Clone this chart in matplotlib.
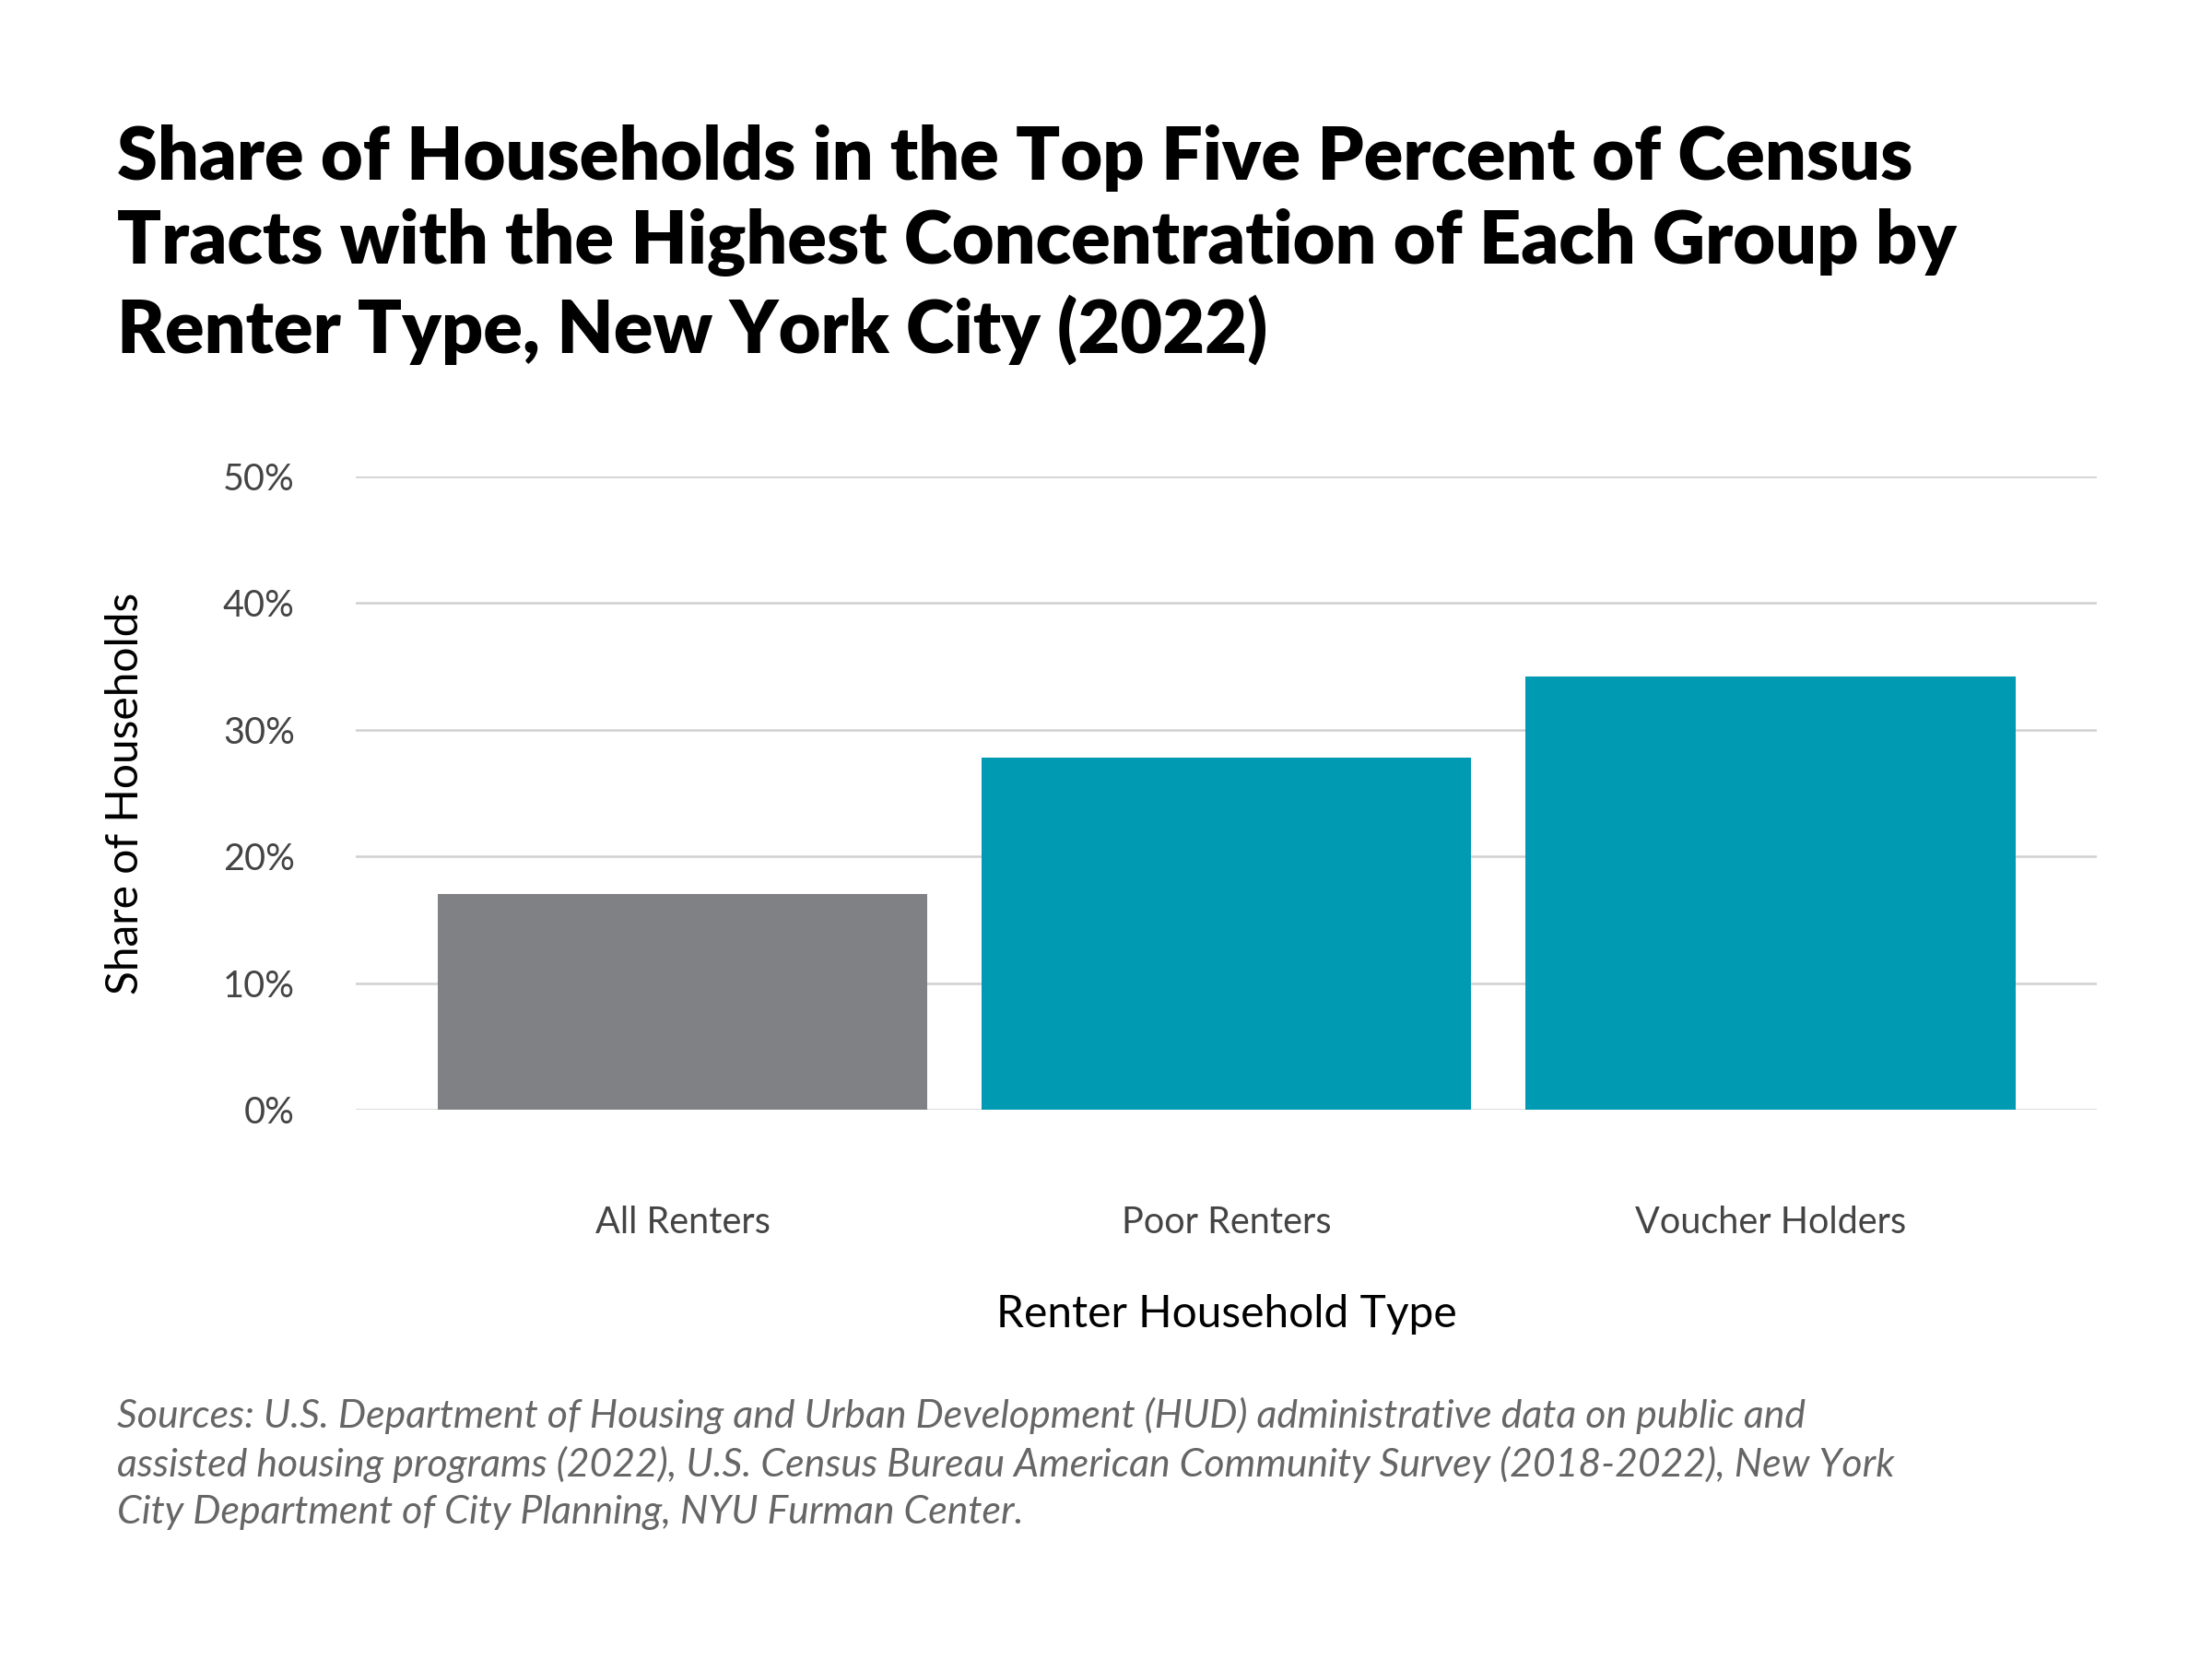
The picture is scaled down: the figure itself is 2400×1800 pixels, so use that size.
import matplotlib.pyplot as plt
from matplotlib.ticker import FuncFormatter

categories = ["All Renters", "Poor Renters", "Voucher Holders"]
shares = [17.0, 27.8, 34.2]
colors = ["#808184", "#009AB3", "#009AB3"]
yticks = [0, 10, 20, 30, 40, 50]

plt.rcParams["font.family"] = ["Lato", "DejaVu Sans"]
fig = plt.figure(figsize=(16, 12), dpi=150)
ax = fig.add_axes([0.161, 0.331, 0.787, 0.382])

ax.bar(range(len(categories)), shares, width=0.9, color=colors, zorder=3)
ax.set_xlim(-0.6, 2.6)
ax.set_ylim(0, 50)
ax.set_yticks(yticks)
ax.yaxis.set_major_formatter(FuncFormatter(lambda v, p: f"{v:.0f}%"))
ax.set_xticks(range(len(categories)))
ax.set_xticklabels(categories)
ax.grid(axis="y", color="#d0d0d0", linewidth=1.2, zorder=0)
for s in ax.spines.values():
    s.set_visible(False)
ax.tick_params(axis="both", length=0, labelsize=19, labelcolor="#444444")
ax.tick_params(axis="x", pad=50)
ax.tick_params(axis="y", pad=32)
ax.set_xlabel("Renter Household Type", fontsize=23, labelpad=28)
ax.set_ylabel("Share of Households", fontsize=23, labelpad=40)

fig.text(0.053, 0.925, "Share of Households in the Top Five Percent of Census\n"
         "Tracts with the Highest Concentration of Each Group by\n"
         "Renter Type, New York City (2022)",
         fontsize=38, fontweight="heavy", va="top", linespacing=1.3)
fig.text(0.053, 0.158, "Sources: U.S. Department of Housing and Urban Development (HUD) administrative data on public and\n"
         "assisted housing programs (2022), U.S. Census Bureau American Community Survey (2018-2022), New York\n"
         "City Department of City Planning, NYU Furman Center.",
         fontsize=20.5, style="italic", color="#666666", va="top", linespacing=1.4)

fig.savefig("out.png", dpi=150, facecolor="white")
